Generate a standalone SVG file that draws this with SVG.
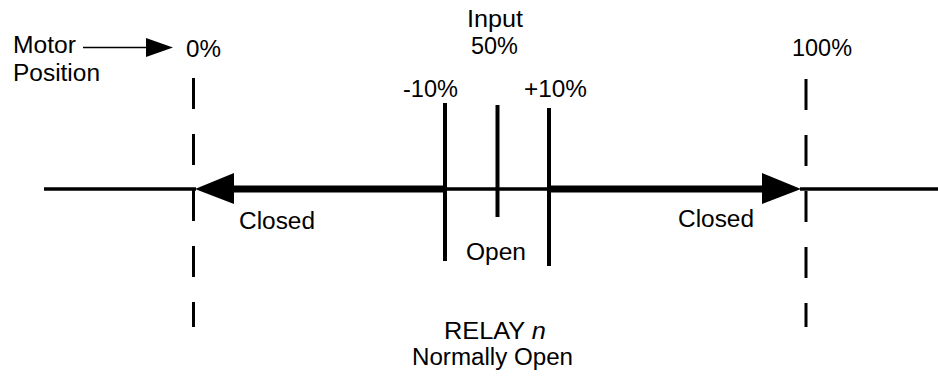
<svg xmlns="http://www.w3.org/2000/svg" width="938" height="377" viewBox="0 0 938 377">
<style>
text{font-family:"Liberation Sans",Arial,sans-serif;font-size:23.5px;fill:#000}
.thin{stroke:#000;stroke-width:3.5;fill:none}
.thick{stroke:#000;stroke-width:7;fill:none}
.dash{stroke:#000;stroke-width:3;fill:none;stroke-dasharray:31 25}
.tick{stroke:#000;stroke-width:4;fill:none}
.head{fill:#000}
</style>
<rect width="938" height="377" fill="#fff"/>
<g id="labels">
<text x="13" y="53" textLength="63" lengthAdjust="spacingAndGlyphs">Motor</text>
<text x="13" y="81" textLength="87" lengthAdjust="spacingAndGlyphs">Position</text>
<text x="186" y="57" textLength="35" lengthAdjust="spacingAndGlyphs">0%</text>
<text x="467" y="27" textLength="56" lengthAdjust="spacingAndGlyphs">Input</text>
<text x="471" y="54" textLength="47" lengthAdjust="spacingAndGlyphs">50%</text>
<text x="403" y="97" textLength="55" lengthAdjust="spacingAndGlyphs">-10%</text>
<text x="524" y="97" textLength="63" lengthAdjust="spacingAndGlyphs">+10%</text>
<text x="792" y="56" textLength="60" lengthAdjust="spacingAndGlyphs">100%</text>
<text x="239" y="229" textLength="76" lengthAdjust="spacingAndGlyphs">Closed</text>
<text x="678" y="227" textLength="76" lengthAdjust="spacingAndGlyphs">Closed</text>
<text x="466" y="260" textLength="60" lengthAdjust="spacingAndGlyphs">Open</text>
<text x="444" y="339" textLength="102" lengthAdjust="spacingAndGlyphs">RELAY <tspan font-style="italic">n</tspan></text>
<text x="412" y="365" textLength="161" lengthAdjust="spacingAndGlyphs">Normally Open</text>
</g>
<g id="connectors">
<line x1="83" y1="47.5" x2="150" y2="47.5" stroke="#000" stroke-width="1.3"/>
<polygon class="head" points="173,47.5 146,38 146,57"/>
<line class="dash" x1="193.5" y1="78" x2="193.5" y2="327"/>
<line class="dash" x1="806" y1="79" x2="806" y2="327"/>
<line class="thin" x1="44" y1="189" x2="196" y2="189"/>
<line class="thick" x1="230" y1="189" x2="445" y2="189"/>
<line class="thin" x1="445" y1="189" x2="549" y2="189"/>
<line class="thick" x1="549" y1="189" x2="766" y2="189"/>
<line class="thin" x1="800" y1="189" x2="938" y2="189"/>
<polygon class="head" points="195,189 234,173 234,204"/>
<polygon class="head" points="801,189 762,173 762,204"/>
<line class="tick" x1="445" y1="103" x2="445" y2="261"/>
<line class="tick" x1="497.5" y1="105" x2="497.5" y2="217"/>
<line class="tick" x1="549" y1="108" x2="549" y2="266"/>
</g>
</svg>
